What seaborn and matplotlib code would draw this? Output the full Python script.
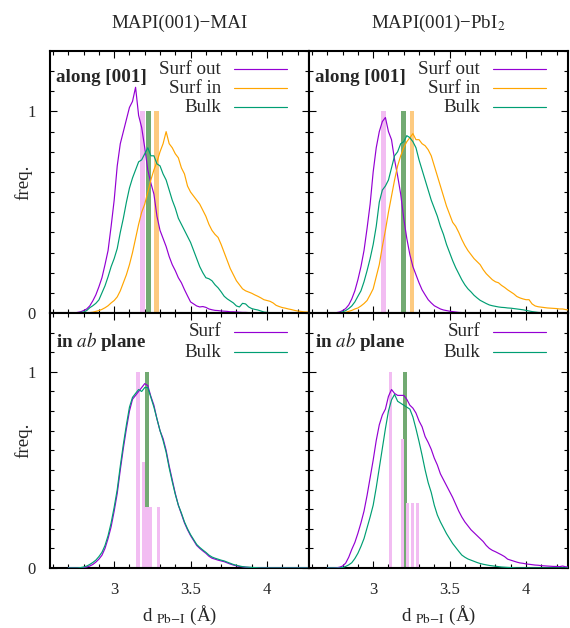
import numpy as np
import pandas as pd
import matplotlib
matplotlib.use("Agg")
import matplotlib.pyplot as plt
from matplotlib.ticker import MultipleLocator, FixedLocator
import seaborn as sns

sns.set_style("ticks")
plt.rcParams['font.family'] = ['Liberation Serif', 'DejaVu Serif']
plt.rcParams['mathtext.fontset'] = 'stix'

# ---------------- data ----------------
XS = np.round(np.arange(2.70, 4.2801, 0.02), 2)   # bond-length grid (A)

TL_SURF_OUT = [0, 0, 0, 0.003, 0.006, 0.012, 0.02, 0.035, 0.06, 0.09,
               0.13, 0.175, 0.24, 0.31, 0.43, 0.56, 0.73, 0.84, 0.90, 0.96,
               1.02, 1.05, 1.12, 0.98, 0.92, 0.82, 0.71, 0.645, 0.59, 0.48,
               0.41, 0.37, 0.33, 0.28, 0.24, 0.21, 0.175, 0.15, 0.116, 0.085,
               0.055, 0.045, 0.035, 0.03, 0.032, 0.028, 0.02, 0.016, 0.013, 0.012,
               0.01, 0.009, 0.008, 0.006, 0.006, 0.005, 0.004, 0.003, 0.003, 0.002,
               0, 0, 0, 0, 0, 0, 0, 0, 0, 0,
               0, 0, 0, 0, 0, 0, 0, 0, 0, 0]
TL_SURF_IN = [0, 0, 0, 0, 0, 0, 0.001, 0.002, 0.004, 0.008,
              0.012, 0.018, 0.026, 0.036, 0.05, 0.062, 0.08, 0.11, 0.15, 0.19,
              0.24, 0.30, 0.37, 0.44, 0.50, 0.54, 0.60, 0.66, 0.71, 0.75,
              0.80, 0.84, 0.90, 0.84, 0.82, 0.79, 0.77, 0.72, 0.69, 0.63,
              0.60, 0.58, 0.56, 0.54, 0.51, 0.48, 0.44, 0.41, 0.39, 0.375,
              0.34, 0.30, 0.26, 0.22, 0.19, 0.16, 0.14, 0.12, 0.11, 0.104,
              0.098, 0.09, 0.083, 0.075, 0.066, 0.062, 0.058, 0.05, 0.038, 0.032,
              0.027, 0.024, 0.02, 0.017, 0.013, 0.01, 0.008, 0.006, 0.005, 0.004]
TL_BULK = [0, 0, 0, 0.001, 0.003, 0.005, 0.012, 0.026, 0.036, 0.048,
           0.065, 0.10, 0.135, 0.18, 0.23, 0.27, 0.32, 0.40, 0.47, 0.55,
           0.62, 0.67, 0.71, 0.75, 0.76, 0.79, 0.82, 0.78, 0.78, 0.74,
           0.73, 0.69, 0.66, 0.61, 0.56, 0.52, 0.47, 0.44, 0.41, 0.38,
           0.35, 0.31, 0.27, 0.23, 0.20, 0.175, 0.17, 0.16, 0.14, 0.125,
           0.105, 0.083, 0.07, 0.06, 0.05, 0.035, 0.03, 0.048, 0.045, 0.03,
           0.022, 0.018, 0.015, 0.01, 0.005, 0.003, 0.002, 0.001, 0, 0,
           0, 0, 0, 0, 0, 0, 0, 0, 0, 0]

TR_SURF_OUT = [0, 0, 0, 0.002, 0.005, 0.012, 0.022, 0.04, 0.07, 0.11,
               0.165, 0.23, 0.31, 0.42, 0.54, 0.70, 0.82, 0.90, 0.95, 0.97,
               0.90, 0.86, 0.76, 0.68, 0.59, 0.47, 0.37, 0.29, 0.23, 0.19,
               0.15, 0.115, 0.09, 0.066, 0.05, 0.036, 0.028, 0.02, 0.015, 0.012,
               0.009, 0.007, 0.005, 0.003, 0.002, 0.001, 0, 0, 0, 0,
               0, 0, 0, 0, 0, 0, 0, 0, 0, 0,
               0, 0, 0, 0, 0, 0, 0, 0, 0, 0,
               0, 0, 0, 0, 0, 0, 0, 0, 0, 0]
TR_SURF_IN = [0, 0, 0, 0, 0, 0, 0.003, 0.008, 0.013, 0.02,
              0.025, 0.035, 0.047, 0.062, 0.09, 0.12, 0.18, 0.24, 0.33, 0.41,
              0.50, 0.58, 0.66, 0.73, 0.78, 0.82, 0.85, 0.87, 0.89, 0.86,
              0.86, 0.84, 0.83, 0.81, 0.78, 0.73, 0.68, 0.63, 0.58, 0.53,
              0.49, 0.45, 0.43, 0.40, 0.365, 0.335, 0.31, 0.29, 0.27, 0.255,
              0.24, 0.215, 0.195, 0.18, 0.165, 0.155, 0.15, 0.137, 0.127, 0.115,
              0.105, 0.095, 0.082, 0.075, 0.07, 0.066, 0.066, 0.045, 0.035, 0.031,
              0.029, 0.027, 0.025, 0.024, 0.023, 0.022, 0.02, 0.02, 0.017, 0.015]
TR_BULK = [0, 0, 0, 0, 0.002, 0.006, 0.012, 0.022, 0.035, 0.055,
           0.083, 0.11, 0.155, 0.21, 0.27, 0.34, 0.43, 0.55, 0.61, 0.63,
           0.66, 0.72, 0.78, 0.80, 0.84, 0.85, 0.88, 0.87, 0.85, 0.82,
           0.76, 0.71, 0.66, 0.61, 0.56, 0.52, 0.48, 0.43, 0.39, 0.34,
           0.30, 0.26, 0.225, 0.195, 0.165, 0.14, 0.12, 0.105, 0.088, 0.075,
           0.063, 0.055, 0.047, 0.04, 0.036, 0.033, 0.03, 0.028, 0.027, 0.025,
           0.024, 0.022, 0.02, 0.018, 0.016, 0.013, 0.01, 0.007, 0.005, 0.003,
           0.002, 0.001, 0, 0, 0, 0, 0, 0, 0, 0]

BL_SURF = [0, 0, 0, 0, 0, 0.002, 0.005, 0.01, 0.018, 0.03,
           0.045, 0.065, 0.10, 0.15, 0.21, 0.29, 0.38, 0.50, 0.61, 0.71,
           0.80, 0.86, 0.88, 0.90, 0.92, 0.94, 0.93, 0.875, 0.83, 0.76,
           0.70, 0.66, 0.60, 0.52, 0.45, 0.38, 0.32, 0.275, 0.23, 0.195,
           0.165, 0.14, 0.115, 0.10, 0.087, 0.075, 0.06, 0.05, 0.045, 0.04,
           0.036, 0.032, 0.026, 0.02, 0.015, 0.011, 0.008, 0.006, 0.004, 0.003,
           0.002, 0.001, 0, 0, 0, 0, 0, 0, 0, 0,
           0, 0, 0, 0, 0, 0, 0, 0, 0, 0]
BL_BULK = [0, 0, 0, 0, 0.002, 0.005, 0.01, 0.018, 0.028, 0.04,
           0.058, 0.08, 0.115, 0.165, 0.23, 0.31, 0.40, 0.52, 0.63, 0.73,
           0.82, 0.87, 0.89, 0.91, 0.90, 0.92, 0.92, 0.87, 0.82, 0.76,
           0.70, 0.65, 0.59, 0.51, 0.44, 0.375, 0.32, 0.28, 0.235, 0.20,
           0.17, 0.145, 0.12, 0.105, 0.092, 0.08, 0.066, 0.056, 0.05, 0.045,
           0.04, 0.036, 0.03, 0.024, 0.018, 0.014, 0.01, 0.007, 0.005, 0.004,
           0.003, 0.002, 0.001, 0, 0, 0, 0, 0, 0, 0,
           0, 0, 0, 0, 0, 0, 0, 0, 0, 0]

BR_SURF = [0, 0, 0, 0.001, 0.004, 0.01, 0.025, 0.055, 0.095, 0.13,
           0.177, 0.23, 0.29, 0.37, 0.46, 0.55, 0.65, 0.73, 0.78, 0.81,
           0.875, 0.91, 0.89, 0.88, 0.88, 0.88, 0.86, 0.83, 0.815, 0.79,
           0.75, 0.72, 0.67, 0.64, 0.605, 0.56, 0.525, 0.48, 0.45, 0.42,
           0.39, 0.36, 0.325, 0.29, 0.26, 0.235, 0.215, 0.195, 0.18, 0.165,
           0.15, 0.135, 0.115, 0.10, 0.09, 0.083, 0.075, 0.067, 0.058, 0.045,
           0.04, 0.035, 0.03, 0.026, 0.024, 0.021, 0.019, 0.017, 0.015, 0.014,
           0.012, 0.011, 0.01, 0.009, 0.008, 0.008, 0.007, 0.01, 0.006, 0.005]
BR_BULK = [0, 0, 0, 0, 0, 0.003, 0.008, 0.016, 0.027, 0.048,
           0.075, 0.11, 0.15, 0.205, 0.26, 0.32, 0.41, 0.51, 0.61, 0.71,
           0.80, 0.857, 0.885, 0.85, 0.84, 0.83, 0.82, 0.81, 0.77, 0.71,
           0.645, 0.575, 0.50, 0.435, 0.385, 0.32, 0.27, 0.235, 0.205, 0.175,
           0.15, 0.125, 0.105, 0.085, 0.066, 0.055, 0.046, 0.04, 0.034, 0.028,
           0.023, 0.019, 0.016, 0.013, 0.011, 0.009, 0.007, 0.005, 0.004, 0.003,
           0.002, 0.001, 0, 0, 0, 0, 0, 0, 0, 0,
           0, 0, 0, 0, 0, 0, 0, 0, 0, 0]

# static reference bond lengths (bars)
TL_BAR_X = [3.186, 3.225, 3.278]
TR_BAR_X = [3.069, 3.197, 3.253]
BL_PINK_X = [3.157, 3.190, 3.214, 3.236, 3.288]
BL_PINK_H = [1.0, 0.54, 0.31, 0.31, 0.31]
BL_GREEN_X = [3.216]
BR_PINK_X = [3.112, 3.190, 3.226, 3.259, 3.291]
BR_PINK_H = [1.0, 0.66, 0.33, 0.33, 0.33]
BR_GREEN_X = [3.210]

COL_TITLES = ["MAPI(001)\u2212MAI", "MAPI(001)\u2212PbI$_2$"]
TOP_LABELS = ["Surf out", "Surf in", "Bulk"]
BOT_LABELS = ["Surf", "Bulk"]
X_LABEL = "d $_{\\rm Pb{\u2212}I}$ (\u00c5)"

PURPLE, ORANGE, GREEN = "#9400d3", "#ffa500", "#009e73"
PINK_BAR, GREEN_BAR, ORANGE_BAR = "#f2bdf2", "#72aa72", "#fdca80"

FS = 13.7
W, H = 570, 628
fig = plt.figure(figsize=(W / 100, H / 100), dpi=100)

def ax_rect(l, t, r, b):
    return [l / W, 1 - b / H, (r - l) / W, (b - t) / H]

axes = {
    "TL": fig.add_axes(ax_rect(50, 51, 309, 313)),
    "TR": fig.add_axes(ax_rect(309, 51, 568, 313)),
    "BL": fig.add_axes(ax_rect(50, 313, 309, 568)),
    "BR": fig.add_axes(ax_rect(309, 313, 568, 568)),
}

def draw_curves(ax, series, colors, labels):
    frames = []
    for lab, ys in zip(labels, series):
        frames.append(pd.DataFrame({"d": XS, "freq": ys, "set": lab}))
    df = pd.concat(frames, ignore_index=True)
    sns.lineplot(data=df, x="d", y="freq", hue="set", hue_order=labels,
                 palette=dict(zip(labels, colors)), estimator=None,
                 linewidth=0.85, legend=False, ax=ax, zorder=3)

def draw_key(ax, labels, colors, rows):
    for lab, col, yy in zip(labels, colors, rows):
        ax.text(3.70, yy, lab, ha="right", va="center", fontsize=FS, zorder=5)
        ax.plot([3.784, 4.13], [yy, yy], color=col, lw=0.85, zorder=5)

def style(ax, left, bottom):
    ax.set_xlim(2.58, 4.275)
    ax.set_ylim(0, 1.30)
    ax.xaxis.set_major_locator(FixedLocator([3.0, 3.5, 4.0]))
    ax.xaxis.set_minor_locator(MultipleLocator(0.1))
    ax.yaxis.set_major_locator(FixedLocator([0, 1]))
    ax.yaxis.set_minor_locator(MultipleLocator(0.1))
    ax.tick_params(which="both", direction="in", top=True, right=True,
                   width=0.8, color="black")
    ax.tick_params(which="major", length=5)
    ax.tick_params(which="minor", length=3)
    ax.tick_params(axis="y", pad=10, labelsize=12, labelleft=left)
    ax.tick_params(axis="x", pad=10, labelsize=12, labelbottom=bottom)
    ax.set_xticklabels(["3", "3.5", "4"])
    ax.set_yticklabels(["0", "1"])
    ax.set_xlabel("")
    ax.set_ylabel("")
    for sp in ax.spines.values():
        sp.set_linewidth(1.5)
        sp.set_color("black")
        sp.set_visible(True)

# ---- top panels
for key, bx, curves in [("TL", TL_BAR_X, (TL_SURF_OUT, TL_SURF_IN, TL_BULK)),
                        ("TR", TR_BAR_X, (TR_SURF_OUT, TR_SURF_IN, TR_BULK))]:
    ax = axes[key]
    ax.bar(bx, [1, 1, 1], width=0.03, color=[PINK_BAR, GREEN_BAR, ORANGE_BAR],
           linewidth=0, zorder=1)
    draw_curves(ax, curves, [PURPLE, ORANGE, GREEN], TOP_LABELS)
    draw_key(ax, TOP_LABELS, [PURPLE, ORANGE, GREEN], [1.209, 1.114, 1.02])
    ax.text(0.023, 0.897, "along [001]", transform=ax.transAxes, ha="left",
            va="center", fontsize=FS, fontweight="bold", zorder=5)
    style(ax, key == "TL", False)

# ---- bottom panels
for key, gx, px, ph, curves in [("BL", BL_GREEN_X, BL_PINK_X, BL_PINK_H, (BL_SURF, BL_BULK)),
                                ("BR", BR_GREEN_X, BR_PINK_X, BR_PINK_H, (BR_SURF, BR_BULK))]:
    ax = axes[key]
    ax.bar(gx, [1.0], width=0.024, color=GREEN_BAR, linewidth=0, zorder=1)
    ax.bar(px, ph, width=0.022, color=PINK_BAR, linewidth=0, zorder=1.5)
    draw_curves(ax, curves, [PURPLE, GREEN], BOT_LABELS)
    draw_key(ax, BOT_LABELS, [PURPLE, GREEN], [1.204, 1.10])
    ax.text(0.023, 0.89, r"in $\mathbf{\mathit{ab}}$ plane", transform=ax.transAxes,
            ha="left", va="center", fontsize=FS, fontweight="bold", zorder=5)
    style(ax, key == "BL", True)

# ---- figure texts
for xc, t in zip([179.5 / W, 438.5 / W], COL_TITLES):
    fig.text(xc, 1 - 28 / H, t, ha="center", va="baseline", fontsize=FS)
for xc in [179.5 / W, 438.5 / W]:
    fig.text(xc, 1 - 621 / H, X_LABEL, ha="center", va="baseline", fontsize=FS)
for yc in [1 - 182 / H, 1 - 440 / H]:
    fig.text(23 / W, yc, "freq.", rotation=90, ha="center", va="center", fontsize=FS)

fig.savefig("out.png", dpi=100)
